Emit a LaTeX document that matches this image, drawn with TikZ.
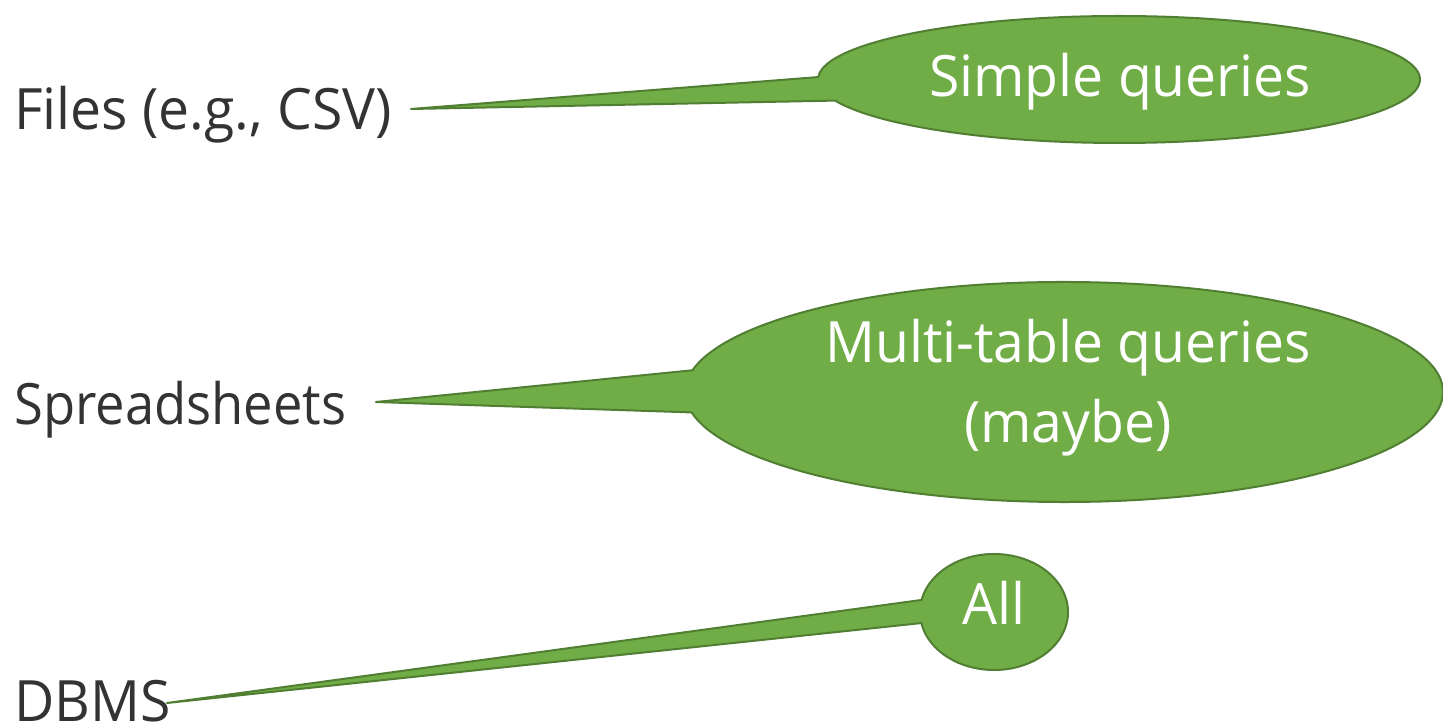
\documentclass[tikz,border=0pt]{standalone}
\usepackage{fontspec}
\setmainfont[FakeStretch=0.97]{Open Sans}
\usetikzlibrary{calc}
\definecolor{calloutfill}{HTML}{70AD47}
\definecolor{calloutline}{HTML}{507E32}
\definecolor{labeltext}{HTML}{333333}
\begin{document}
\begin{tikzpicture}[x=1pt,y=1pt,
  callout/.style={fill=calloutfill,draw=calloutline,line width=2pt,line join=round},
  lefttext/.style={anchor=base west,inner sep=0pt,text=labeltext,font=\fontsize{57}{80}\selectfont},
  intext/.style={anchor=base,inner sep=0pt,text=white,font=\fontsize{57}{80}\selectfont}]
\useasboundingbox (0,0) rectangle (1443,728);
% centres and tips
\coordinate (c1) at (1119,648.5);
\coordinate (c2) at (1064,336);
\coordinate (c3) at (994,116);
\coordinate (tip1) at (411,619);
\coordinate (tip2) at (376,326);
\coordinate (tip3) at (167,25);
% left labels
\node[lefttext] (files) at (14,598) {Files (e.g., CSV)};
\node[lefttext] (sheets) at (14,303) {\scalebox{0.95}[1]{Spreadsheets}};
\node[lefttext] (dbms) at (14,6) {DBMS};
% callouts
\draw[callout] (tip1) -- ($(c1)+(177.8:301 and 63.5)$)
  arc[start angle=177.8, end angle=-160.6, x radius=301, y radius=63.5] -- cycle;
\draw[callout] (tip2) -- ($(c2)+(168.6:379 and 110)$)
  arc[start angle=168.6, end angle=-169.3, x radius=379, y radius=110] -- cycle;
\draw[callout] (tip3) -- ($(c3)+(168:74 and 58)$)
  arc[start angle=168, end angle=-169, x radius=74, y radius=58] -- cycle;
% callout texts
\node[intext] (simple) at (1120,631) {Simple queries};
\node[intext] (multi) at (1068,365) {Multi-table queries};
\node[intext] (maybe) at (1068,285) {(maybe)};
\node[intext] (all) at (994,103) {All};
\end{tikzpicture}
\end{document}
